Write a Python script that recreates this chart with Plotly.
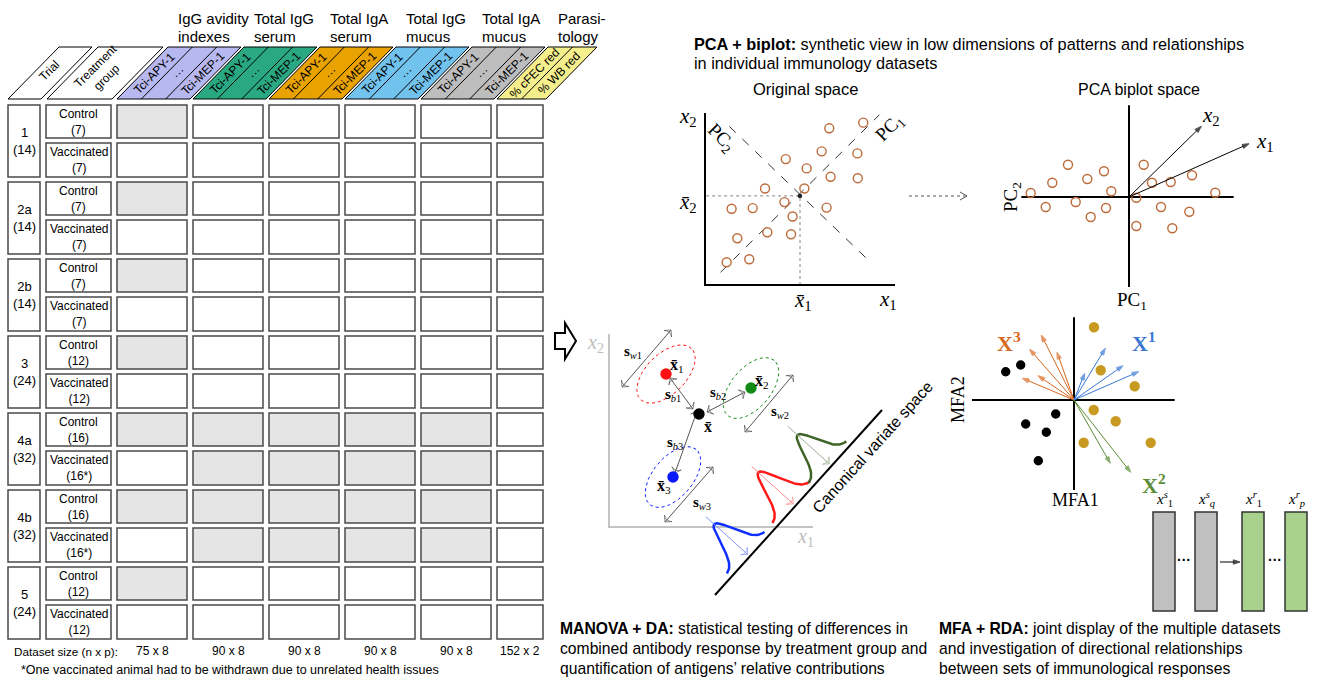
import numpy as np
import plotly.graph_objects as go

W, H = 1318, 678
SANS = "Liberation Sans, Arial, Helvetica, sans-serif"
SERIF = "Liberation Serif, Cambria, Times New Roman, serif"

# ---------------- Table: study design ----------------
trials = ["1", "2a", "2b", "3", "4a", "4b", "5"]
trial_sizes = ["14", "14", "14", "24", "32", "32", "24"]
groups = ["Control", "Vaccinated"]
group_sizes = [["7", "7"], ["7", "7"], ["7", "7"], ["12", "12"],
               ["16", "16*"], ["16", "16*"], ["12", "12"]]
dataset_titles = [["IgG avidity", "indexes"], ["Total IgG", "serum"], ["Total IgA", "serum"],
                  ["Total IgG", "mucus"], ["Total IgA", "mucus"], ["Parasi-", "tology"]]
dataset_vars = [["Tci-APY-1", "···", "Tci-MEP-1"]] * 5 + [["% cFEC red", "% WB red"]]
dataset_colors = ["#b8b8f0", "#2aa882", "#e8a202", "#72c2ee", "#bdbdbd", "#f4ee8c"]
dataset_sizes = ["75 x 8", "90 x 8", "90 x 8", "90 x 8", "90 x 8", "152 x 2"]
# 1 = dataset not available for that trial/group (grey cell)
missing = [
    [1, 0, 0, 0, 0, 0], [0, 0, 0, 0, 0, 0],   # 1
    [1, 0, 0, 0, 0, 0], [0, 0, 0, 0, 0, 0],   # 2a
    [1, 0, 0, 0, 0, 0], [0, 0, 0, 0, 0, 0],   # 2b
    [1, 0, 0, 0, 0, 0], [0, 0, 0, 0, 0, 0],   # 3
    [1, 1, 1, 1, 1, 0], [0, 1, 1, 1, 1, 0],   # 4a
    [1, 1, 1, 1, 1, 0], [0, 1, 1, 1, 1, 0],   # 4b
    [1, 0, 0, 0, 0, 0], [0, 0, 0, 0, 0, 0],   # 5
]
footnote = "*One vaccinated animal had to be withdrawn due to unrelated health issues"

# ---------------- PCA: original space ----------------
orig_x1 = [1.14, 2.33, 1.70, 3.28, 4.53, 4.61, 4.18, 1.40, 2.51, 3.16,
           4.25, 5.35, 5.23, 6.40, 6.61, 6.14, 6.54, 8.33, 8.02, 8.04]
orig_x2 = [1.32, 1.50, 2.72, 3.07, 2.95, 3.98, 4.82, 4.43, 4.47, 5.61,
           7.32, 6.78, 5.61, 4.50, 6.29, 7.77, 9.11, 9.44, 7.65, 6.21]
orig_mean = [5.0, 5.18]
pc1_x, pc1_y = [0.82, 9.18], [0.74, 9.90]
pc2_x, pc2_y = [1.28, 8.77], [9.22, 1.26]

# ---------------- PCA biplot ----------------
bi_pc1 = [-9.83, -7.67, -6.10, -4.17, -2.50, -1.77, -8.33, -5.33, -3.83, -2.30,
          1.47, 2.30, 4.17, 6.30, 8.63, 0.73, 3.20, 6.03, 0.73, 4.33]
bi_pc2 = [0.40, 1.43, 3.23, 1.80, 2.57, 0.57, -1.00, -0.50, -2.00, -1.10,
          3.23, 1.43, 1.50, 2.17, 0.43, -0.07, -1.00, -1.47, -2.90, -3.13]
bi_load_names = ["x1", "x2"]
bi_load_pc1 = [12.0, 7.23]
bi_load_pc2 = [5.33, 7.07]

# ---------------- MFA ----------------
mfa_gold_x = [2.0, 2.67, 6.07, 1.97, 4.17, 0.97, 7.67]
mfa_gold_y = [7.27, 2.97, 1.37, -1.0, -2.13, -4.27, -4.27]
mfa_black_x = [-6.83, -5.33, -4.83, -1.83, -2.77, -3.57]
mfa_black_y = [2.83, 3.5, -2.4, -1.4, -3.23, -6.07]
mfa_X3_x = [-3.27, -4.43, -1.7, -5.17, -3.6]
mfa_X3_y = [6.5, 5.07, 4.77, 2.17, 2.43]
mfa_X1_x = [3.13, 1.07, 4.9, 6.47]
mfa_X1_y = [5.17, 2.67, 3.43, 2.83]
mfa_X2_x = [3.63, 5.67]
mfa_X2_y = [-6.33, -7.23]

# ---------------- MANOVA / DA schematic ----------------
da_colors = ["#ff1010", "#138a13", "#0a18ff"]
da_cx = [57, 142, 64]
da_cy = [153, 139, 50]
da_ell_a = [36, 36, 36]
da_ell_b = [20, 20, 20]
da_ell_ang = [45, 50, 50]
da_grand = [90, 113]
da_arrow_lbl = ["w1", "b1", "b2", "w2", "b3", "w3"]
da_arrow_x0 = [13, 61, 98, 136, 88, 56]
da_arrow_y0 = [140, 149, 115, 95, 116, 5]
da_arrow_x1 = [62, 84, 136, 184, 66, 104]
da_arrow_y1 = [197, 118, 135, 152, 54, 60]
da_lbl_x = [24, 64, 109, 171, 66, 93]
da_lbl_y = [175, 132, 134, 115, 84, 24]
canon_x = [106, 273]
canon_y = [-68, 117]
gauss_center = [52, 120, 174]     # position along the canonical axis
gauss_height = [48, 50, 46]
gauss_colors = ["#1030ff", "#ff1a1a", "#3f6426"]
proj_colors = ["#7f95ff", "#ff8a8a", "#9aae8e"]

# ---------------- RDA blocks ----------------
rda_labels = ["<i>x</i><sup><i>s</i></sup><sub>1</sub>", "<i>x</i><sup><i>s</i></sup><sub><i>q</i></sub>",
              "<i>x</i><sup><i>r</i></sup><sub>1</sub>", "<i>x</i><sup><i>r</i></sup><sub><i>p</i></sub>"]
rda_colors = ["#c0c0c0", "#c0c0c0", "#a9d18e", "#a9d18e"]

# =====================================================================
fig = go.Figure()
layout_axes = {}
shapes = []
annotations = []


def panel(n, px, py, xr, yr):
    s = "" if n == 1 else str(n)
    layout_axes["xaxis" + s] = dict(domain=[px[0] / W, px[1] / W], range=list(xr), visible=False,
                                    fixedrange=True, anchor="y" + s)
    layout_axes["yaxis" + s] = dict(domain=[1 - py[1] / H, 1 - py[0] / H], range=list(yr), visible=False,
                                    fixedrange=True, anchor="x" + s)
    return "x" + s, "y" + s


def ann(x, y, text, size=12, ref=("x", "y"), family=SANS, color="black", angle=0,
        xanchor="center", yanchor="middle", align="center"):
    annotations.append(dict(x=x, y=y, xref=ref[0], yref=ref[1], text=text, showarrow=False,
                            font=dict(size=size, family=family, color=color), textangle=angle,
                            xanchor=xanchor, yanchor=yanchor, align=align))


def line(ref, xs, ys, color="black", width=1.0, dash="solid"):
    fig.add_trace(go.Scatter(x=list(xs), y=list(ys), xaxis=ref[0], yaxis=ref[1], mode="lines",
                             line=dict(color=color, width=width, dash=dash),
                             hoverinfo="skip", showlegend=False))


def arrow(ref, x0, y0, x1, y1, color, width=1.0, size=8, symbol="arrow", both=False):
    if both:
        mx, my = (x0 + x1) / 2, (y0 + y1) / 2
        xs, ys, sz = [mx, x1, None, mx, x0], [my, y1, None, my, y0], [0, size, 0, 0, size]
    else:
        xs, ys, sz = [x0, x1], [y0, y1], [0, size]
    fig.add_trace(go.Scatter(x=xs, y=ys, xaxis=ref[0], yaxis=ref[1], mode="lines+markers",
                             cliponaxis=False, line=dict(color=color, width=width),
                             marker=dict(symbol=symbol, angleref="previous", size=sz, color=color,
                                         line=dict(width=1, color=color)),
                             hoverinfo="skip", showlegend=False))


def pts(ref, xs, ys, color, size=9, hollow=False):
    fig.add_trace(go.Scatter(x=xs, y=ys, xaxis=ref[0], yaxis=ref[1], mode="markers", cliponaxis=False,
                             marker=dict(symbol="circle-open" if hollow else "circle", size=size, color=color,
                                         line=dict(width=1.4, color=color)),
                             hoverinfo="skip", showlegend=False))


MAIN = panel(1, (0, W), (0, H), (0, W), (H, 0))

# ---------------- Table drawing ----------------
TRIAL_X = (8, 40)
GROUP_X = (46, 111)
COL_X0, COL_STEP = 117, 76
COL_W = [70, 70, 70, 70, 70, 46]
ROW_Y0, BLOCK = 105, 77
CELL_Y = [(0, 33), (38, 72)]
HEAD_BOT, HEAD_TOP, SLANT = 99, 47, 51
BORDER = "#4a4a4a"


def rect(x0, y0, x1, y1, fill="white", color=BORDER, width=1.5):
    shapes.append(dict(type="rect", xref="x", yref="y", x0=x0, y0=y0, x1=x1, y1=y1,
                       fillcolor=fill, line=dict(color=color, width=width), layer="above"))


def para(x0, w, fill):
    p = (f"M {x0} {HEAD_BOT} L {x0 + w} {HEAD_BOT} L {x0 + w + SLANT} {HEAD_TOP} "
         f"L {x0 + SLANT} {HEAD_TOP} Z")
    shapes.append(dict(type="path", xref="x", yref="y", path=p, fillcolor=fill,
                       line=dict(color="black", width=1), layer="above"))


for i, tr in enumerate(trials):
    top = ROW_Y0 + i * BLOCK
    rect(TRIAL_X[0], top, TRIAL_X[1], top + 72)
    ann((TRIAL_X[0] + TRIAL_X[1]) / 2, top + 36, f"{tr}<br>({trial_sizes[i]})", size=13)
    for g in range(2):
        y0, y1 = top + CELL_Y[g][0], top + CELL_Y[g][1]
        rect(GROUP_X[0], y0, GROUP_X[1], y1)
        ann((GROUP_X[0] + GROUP_X[1]) / 2, (y0 + y1) / 2, f"{groups[g]}<br>({group_sizes[i][g]})", size=12)
        for j in range(6):
            cx0 = COL_X0 + j * COL_STEP
            rect(cx0, y0, cx0 + COL_W[j], y1, fill="#e5e5e5" if missing[2 * i + g][j] else "white")

# headers
para(TRIAL_X[0], 33, "white")
ann(49, 71, "Trial", size=12, angle=-45)
para(GROUP_X[0] + 1, 65, "white")
ann(101, 72, "Treatment<br>group", size=12, angle=-45)
for j in range(6):
    x0 = COL_X0 + j * COL_STEP
    w = COL_W[j] + 3
    para(x0, w, dataset_colors[j])
    nv = len(dataset_vars[j])
    for k in range(1, nv):
        xb = x0 + w * k / nv
        shapes.append(dict(type="line", xref="x", yref="y", x0=xb, y0=HEAD_BOT, x1=xb + SLANT, y1=HEAD_TOP,
                           line=dict(color="black", width=1), layer="above"))
    for k, v in enumerate(dataset_vars[j]):
        xc = x0 + w * (k + 0.5) / nv + SLANT / 2
        ann(xc, (HEAD_BOT + HEAD_TOP) / 2, v, size=12, angle=-45)
    ann(x0 + 59, 18, dataset_titles[j][0], size=15, xanchor="left")
    ann(x0 + 59, 36, dataset_titles[j][1], size=15, xanchor="left")
    ann(x0 + COL_W[j] / 2, 651, dataset_sizes[j], size=12)

ann(12, 651, "Dataset size (n x p):", size=11.7, xanchor="left")
ann(19, 670, footnote, size=12.5, xanchor="left")

# big hollow arrow
shapes.append(dict(type="path", xref="x", yref="y",
                   path="M 555 333 L 565 333 L 565 323 L 576 341 L 565 359 L 565 349 L 555 349 Z",
                   fillcolor="white", line=dict(color="black", width=2), layer="above"))

# ---------------- PCA texts ----------------
ann(692, 44, "<b>PCA + biplot:</b> synthetic view in low dimensions of patterns and relationships",
    size=16.3, xanchor="left")
ann(692, 63, "in individual immunology datasets", size=16.3, xanchor="left")
ann(805, 89, "Original space", size=16.5)
ann(1139, 89, "PCA biplot space", size=16)

# ---------------- PCA original space ----------------
P2 = panel(2, (695, 905), (103, 295), (-10 / 19, 10 + 10 / 19), (-10 / 17.2, 10 + 10 / 17.2))
line(P2, [orig_mean[0], orig_mean[0], 0], [0, orig_mean[1], orig_mean[1]], color="#888", width=1, dash="dot")
line(P2, pc1_x, pc1_y, color="#333", width=1, dash="dash")
line(P2, pc2_x, pc2_y, color="#333", width=1, dash="dash")
line(P2, [0, 0, 10], [10, 0, 0], color="black", width=2)
pts(P2, orig_x1, orig_x2, "#bd6b3a", size=9, hollow=True)
pts(P2, [orig_mean[0]], [orig_mean[1]], "#222", size=3)
ann(688, 117, "<i>x</i><sub>2</sub>", size=21, family=SERIF)
ann(688, 203, "<i>x\u0304</i><sub>2</sub>", size=21, family=SERIF)
ann(803, 301, "<i>x\u0304</i><sub>1</sub>", size=21, family=SERIF)
ann(888, 300, "<i>x</i><sub>1</sub>", size=21, family=SERIF)
ann(890, 128, "PC<sub>1</sub>", size=19, family=SERIF, angle=-45)
ann(721, 138, "PC<sub>2</sub>", size=19, family=SERIF, angle=45)

# dotted arrow between PCA panels
shapes.append(dict(type="line", xref="x", yref="y", x0=909, y0=196, x1=965, y1=196,
                   line=dict(color="#555", width=1, dash="dot"), layer="above"))
shapes.append(dict(type="path", xref="x", yref="y", path="M 960 192 L 967 196 L 960 200",
                   line=dict(color="#555", width=1), layer="above"))

# ---------------- PCA biplot ----------------
P3 = panel(3, (1015, 1275), (100, 295), (-11.4, 14.6), (-9.8, 9.7))
line(P3, [-10.77, 10.47], [0, 0], width=2)
line(P3, [0, 0], [9.17, -9.0], width=2)
pts(P3, bi_pc1, bi_pc2, "#bd6b3a", size=9, hollow=True)
for k in range(len(bi_load_names)):
    arrow(P3, 0, 0, bi_load_pc1[k], bi_load_pc2[k], "black", width=1, size=7)
ann(1211, 116, "<i>x</i><sub>2</sub>", size=21, family=SERIF)
ann(1265, 142, "<i>x</i><sub>1</sub>", size=21, family=SERIF)
ann(1012, 197, "PC<sub>2</sub>", size=19, family=SERIF, angle=-90)
ann(1132, 301, "PC<sub>1</sub>", size=19, family=SERIF)

# ---------------- MFA ----------------
P4 = panel(4, (965, 1185), (310, 495), (-10.9, 11.1), (-9.5, 9.0))
line(P4, [-10.2, 10.07], [0, 0], width=2)
line(P4, [0, 0], [8.27, -9.0], width=2)
for xs, ys, col in [(mfa_X3_x, mfa_X3_y, "#d9691f"), (mfa_X1_x, mfa_X1_y, "#3a78d4"),
                    (mfa_X2_x, mfa_X2_y, "#5c8d36")]:
    for xx, yy in zip(xs, ys):
        arrow(P4, 0, 0, xx, yy, col, width=1, size=7)
pts(P4, mfa_gold_x, mfa_gold_y, "#c99a22", size=9)
pts(P4, mfa_black_x, mfa_black_y, "black", size=8)
ann(958, 400, "MFA2", size=18, family=SERIF, angle=-90)
ann(1075, 500, "MFA1", size=18, family=SERIF)
ann(1009, 342, "<b>X</b><sup><b>3</b></sup>", size=22, family=SERIF, color="#d9691f")
ann(1144, 342, "<b>X</b><sup><b>1</b></sup>", size=22, family=SERIF, color="#3a78d4")
ann(1154, 484, "<b>X</b><sup><b>2</b></sup>", size=22, family=SERIF, color="#5c8d36")

# ---------------- RDA blocks ----------------
RDA_X = [1153, 1195, 1242, 1285]
for k in range(4):
    rect(RDA_X[k], 512, RDA_X[k] + 22, 611, fill=rda_colors[k], color="#333", width=1.5)
    ann(RDA_X[k] + 11, 499, rda_labels[k], size=15, family=SERIF)
ann(1184, 560, "<b>···</b>", size=14)
ann(1275, 560, "<b>···</b>", size=14)
arrow(MAIN, 1220, 562, 1240, 562, "black", width=1, size=7)

# ---------------- MANOVA / DA ----------------
P5 = panel(5, (590, 900), (320, 610), (-19, 291), (-83, 207))
line(P5, [0, 0, 204], [193, 0, 0], color="#c4c4c4", width=2)
ann(595, 343, "<i>x</i><sub>2</sub>", size=20, family=SERIF, color="#bdbdbd")
ann(805, 537, "<i>x</i><sub>1</sub>", size=20, family=SERIF, color="#bdbdbd")
th = np.linspace(0, 2 * np.pi, 120)
for k in range(3):
    a, b, ang = da_ell_a[k], da_ell_b[k], np.radians(da_ell_ang[k])
    ex = da_cx[k] + a * np.cos(th) * np.cos(ang) - b * np.sin(th) * np.sin(ang)
    ey = da_cy[k] + a * np.cos(th) * np.sin(ang) + b * np.sin(th) * np.cos(ang)
    line(P5, ex, ey, color=da_colors[k], width=1, dash="dot")
for k in range(6):
    arrow(P5, da_arrow_x0[k], da_arrow_y0[k], da_arrow_x1[k], da_arrow_y1[k], "#555",
          width=1, size=7, symbol="arrow-wide-open", both=True)
    ann(da_lbl_x[k], da_lbl_y[k], f"<b>s</b><sub><i>{da_arrow_lbl[k][0]}</i>{da_arrow_lbl[k][1]}</sub>",
        size=15, family=SERIF, ref=P5)
pts(P5, da_cx, da_cy, da_colors, size=10)
pts(P5, [da_grand[0]], [da_grand[1]], "black", size=10)
ann(68, 162, "<b>x\u0304</b><sub>1</sub>", size=16, family=SERIF, ref=P5)
ann(153, 146, "<b>x\u0304</b><sub>2</sub>", size=16, family=SERIF, ref=P5)
ann(99, 101, "<b>x\u0304</b>", size=16, family=SERIF, ref=P5)
ann(55, 41, "<b>x\u0304</b><sub>3</sub>", size=16, family=SERIF, ref=P5)

# canonical variate axis + projected densities
line(P5, canon_x, canon_y, color="black", width=2)
d = np.array([canon_x[1] - canon_x[0], canon_y[1] - canon_y[0]], float)
u = d / np.linalg.norm(d)
nrm = np.array([-u[1], u[0]])
L0 = np.array([canon_x[0], canon_y[0]], float)
for k in range(3):
    t = np.linspace(gauss_center[k] - 28, gauss_center[k] + 28, 80)
    h = 5 + (gauss_height[k] - 5) * np.exp(-0.5 * ((t - gauss_center[k]) / 9.5) ** 2)
    P = L0[None, :] + t[:, None] * u[None, :] + h[:, None] * nrm[None, :]
    line(P5, P[:, 0], P[:, 1], color=gauss_colors[k], width=2.5)
    s = L0 + gauss_center[k] * u + 59 * nrm
    e = L0 + gauss_center[k] * u + 3 * nrm
    arrow(P5, s[0], s[1], e[0], e[1], proj_colors[k], width=1, size=7, symbol="arrow-wide-open")
ann(872, 447, "Canonical variate space", size=16, angle=-48)

# ---------------- bottom captions ----------------
cap1 = ["<b>MANOVA + DA:</b> statistical testing of differences in",
        "combined antibody response by treatment group and",
        "quantification of antigens\u2019 relative contributions"]
cap2 = ["<b>MFA + RDA:</b> joint display of the multiple datasets",
        "and investigation of directional relationships",
        "between sets of immunological responses"]
for k in range(3):
    ann(558, 628 + 20 * k, cap1[k], size=15.7, xanchor="left")
    ann(937, 628 + 20 * k, cap2[k], size=15.7, xanchor="left")

fig.update_layout(width=W, height=H, margin=dict(l=0, r=0, t=0, b=0),
                  paper_bgcolor="white", plot_bgcolor="rgba(0,0,0,0)",
                  font=dict(family=SANS, color="black"), showlegend=False,
                  shapes=shapes, annotations=annotations, **layout_axes)
fig.write_html("out.html", config={"displayModeBar": False})
